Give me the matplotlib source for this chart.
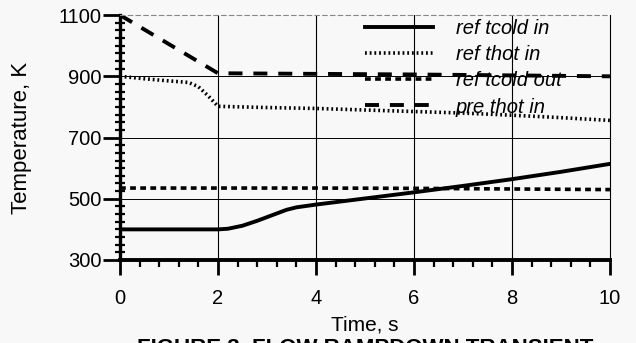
import matplotlib
matplotlib.use("Agg")
import matplotlib.pyplot as plt
from matplotlib.ticker import MultipleLocator

plt.rcParams['font.family'] = ['Liberation Sans', 'DejaVu Sans']

# data
time_tcold_in = [0, 1, 2, 2.2, 2.5, 2.8, 3.1, 3.4, 3.6, 4, 5, 6, 7, 8, 9, 10]
ref_tcold_in = [400, 400, 400, 402, 412, 428, 446, 464, 472, 481, 501, 521, 542, 564, 588, 614]

time_thot_in = [0, 0.5, 1.0, 1.4, 1.6, 1.8, 2.0, 3, 4, 5, 6, 7, 8, 9, 10]
ref_thot_in = [900, 892, 885, 880, 866, 836, 802, 798, 795, 790, 785, 780, 773, 765, 756]

time_tcold_out = [0, 2, 4, 6, 8, 10]
ref_tcold_out = [535, 535, 535, 534, 532, 530]

time_pre = [0, 2, 4, 6, 8, 10]
pre_thot_in = [1100, 910, 908, 906, 903, 900]

x_ticks = [0, 2, 4, 6, 8, 10]
y_ticks = [300, 500, 700, 900, 1100]

bg = '#f8f8f8'
fig = plt.figure(figsize=(6.36, 3.43), dpi=100, facecolor=bg)
ax = fig.add_axes([0.1887, 0.242, 0.7703, 0.714], facecolor=bg)

ax.plot(time_tcold_in, ref_tcold_in, color='black', lw=2.8, label='ref tcold in')
ax.plot(time_thot_in, ref_thot_in, color='black', lw=2.6, linestyle=(0, (0.5, 0.8)),
        label='ref thot in')
ax.plot(time_tcold_out, ref_tcold_out, color='black', lw=2.6, linestyle=(0, (1.6, 1.2)),
        label='ref tcold out')
ax.plot(time_pre, pre_thot_in, color='black', lw=2.8, linestyle=(0, (3.6, 2.8)),
        label='pre thot in')

ax.set_xlim(0, 10)
ax.set_ylim(300, 1100)
ax.set_xticks(x_ticks)
ax.set_yticks(y_ticks)
ax.xaxis.set_minor_locator(MultipleLocator(0.4))
ax.yaxis.set_minor_locator(MultipleLocator(25))

# thin grid at the major ticks
for x in x_ticks[1:-1]:
    ax.axvline(x, color='black', lw=0.8, zorder=0)
for y in y_ticks[1:-1]:
    ax.axhline(y, color='black', lw=0.7, zorder=0)

ax.spines['left'].set_linewidth(2.4)
ax.spines['bottom'].set_linewidth(2.8)
ax.spines['right'].set_linewidth(0.8)
ax.spines['top'].set_linewidth(0.8)
ax.spines['top'].set_color('#888888')
ax.spines['top'].set_linestyle((0, (4, 3)))

ax.tick_params(axis='y', which='major', direction='out', length=12, width=2.0,
               pad=1.5, labelsize=14.5, right=False)
ax.tick_params(axis='y', which='minor', direction='inout', length=7, width=1.6, right=False)
ax.tick_params(axis='x', which='major', direction='out', length=11, width=2.0,
               pad=10, labelsize=14.5, top=False)
ax.tick_params(axis='x', which='minor', direction='out', length=5, width=1.6, top=False)

ax.set_xlabel('Time, s', fontsize=15)
ax.set_ylabel('Temperature, K', fontsize=16)
ax.xaxis.set_label_coords(0.5, -0.225)
ax.yaxis.set_label_coords(-0.18, 0.5)

leg = ax.legend(loc='upper left', bbox_to_anchor=(0.5, 0.985), frameon=False,
                prop={'style': 'italic', 'size': 14.5}, handlelength=3.4,
                handletextpad=1.1, labelspacing=0.36, borderpad=0, borderaxespad=0)

# caption, cut off at the bottom edge as in the scan
fig.text(0.5735, 0.0146, 'FIGURE 3. FLOW RAMPDOWN TRANSIENT', ha='center', va='top',
         fontsize=16, fontweight='bold')

fig.savefig('out.png', dpi=100, facecolor=bg)
